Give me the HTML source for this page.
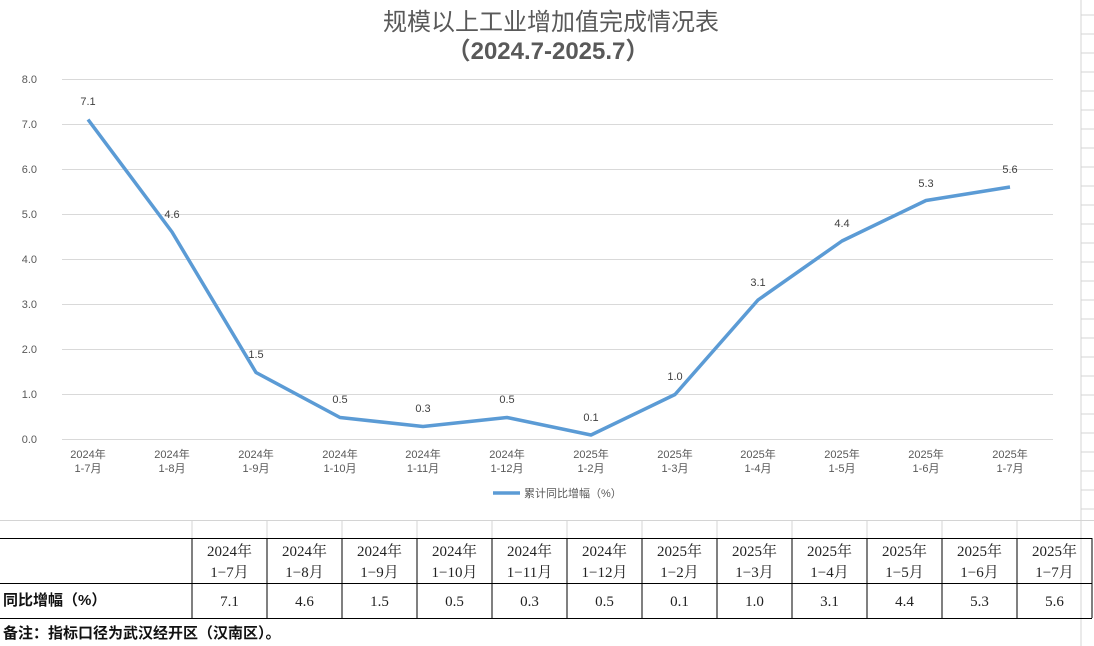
<!DOCTYPE html>
<html><head><meta charset="utf-8"><style>
body{margin:0;width:1094px;height:646px;background:#fff;overflow:hidden;position:relative;font-family:"Liberation Sans","Noto Sans CJK SC",sans-serif}
svg{position:absolute;left:0;top:0}
</style></head><body>
<svg width="1094" height="646" xmlns="http://www.w3.org/2000/svg" font-family="Liberation Sans, Noto Sans CJK SC, sans-serif">
<line x1="1081" y1="0" x2="1081" y2="646" stroke="#d4d4d4"/>
<g stroke="#d4d4d4">
<line x1="1081" y1="15" x2="1094" y2="15"/><line x1="1081" y1="34" x2="1094" y2="34"/><line x1="1081" y1="53" x2="1094" y2="53"/><line x1="1081" y1="72" x2="1094" y2="72"/><line x1="1081" y1="91" x2="1094" y2="91"/><line x1="1081" y1="110" x2="1094" y2="110"/><line x1="1081" y1="129" x2="1094" y2="129"/><line x1="1081" y1="148" x2="1094" y2="148"/><line x1="1081" y1="167" x2="1094" y2="167"/><line x1="1081" y1="186" x2="1094" y2="186"/><line x1="1081" y1="205" x2="1094" y2="205"/><line x1="1081" y1="224" x2="1094" y2="224"/><line x1="1081" y1="243" x2="1094" y2="243"/><line x1="1081" y1="262" x2="1094" y2="262"/><line x1="1081" y1="281" x2="1094" y2="281"/><line x1="1081" y1="300" x2="1094" y2="300"/><line x1="1081" y1="319" x2="1094" y2="319"/><line x1="1081" y1="338" x2="1094" y2="338"/><line x1="1081" y1="357" x2="1094" y2="357"/><line x1="1081" y1="376" x2="1094" y2="376"/><line x1="1081" y1="395" x2="1094" y2="395"/><line x1="1081" y1="414" x2="1094" y2="414"/><line x1="1081" y1="433" x2="1094" y2="433"/><line x1="1081" y1="452" x2="1094" y2="452"/><line x1="1081" y1="471" x2="1094" y2="471"/><line x1="1081" y1="490" x2="1094" y2="490"/><line x1="1081" y1="509" x2="1094" y2="509"/>
</g>
<text x="551" y="30" text-anchor="middle" font-size="24" fill="#595959">规模以上工业增加值完成情况表</text>
<text x="548" y="59" text-anchor="middle" font-size="24" font-weight="bold" fill="#595959">（2024.7-2025.7）</text>
<g stroke="#d9d9d9" stroke-width="1">
<line x1="62" y1="79.5" x2="1053" y2="79.5"/><line x1="62" y1="124.5" x2="1053" y2="124.5"/><line x1="62" y1="169.5" x2="1053" y2="169.5"/><line x1="62" y1="214.5" x2="1053" y2="214.5"/><line x1="62" y1="259.5" x2="1053" y2="259.5"/><line x1="62" y1="304.5" x2="1053" y2="304.5"/><line x1="62" y1="349.5" x2="1053" y2="349.5"/><line x1="62" y1="394.5" x2="1053" y2="394.5"/><line x1="62" y1="439.5" x2="1053" y2="439.5"/>
</g>
<g font-size="11" fill="#595959" text-anchor="end">
<text x="37" y="83">8.0</text><text x="37" y="128">7.0</text><text x="37" y="173">6.0</text><text x="37" y="218">5.0</text><text x="37" y="263">4.0</text><text x="37" y="308">3.0</text><text x="37" y="353">2.0</text><text x="37" y="398">1.0</text><text x="37" y="443">0.0</text>
</g>
<polyline fill="none" stroke="#5b9bd5" stroke-width="3.5" stroke-linejoin="round" points="88,119.5 172,232 256,372.5 340,417.5 423,426.5 507,417.5 591,435 675,394.5 758,300 842,241 926,200.5 1010,187"/>
<g font-size="11" fill="#404040" text-anchor="middle">
<text x="88" y="105">7.1</text><text x="172" y="218">4.6</text><text x="256" y="358">1.5</text><text x="340" y="403">0.5</text><text x="423" y="412">0.3</text><text x="507" y="403">0.5</text><text x="591" y="421">0.1</text><text x="675" y="380">1.0</text><text x="758" y="286">3.1</text><text x="842" y="227">4.4</text><text x="926" y="187">5.3</text><text x="1010" y="173">5.6</text>
</g>
<g font-size="11" fill="#595959" text-anchor="middle">
<text x="88" y="458">2024年</text><text x="88" y="472">1-7月</text>
<text x="172" y="458">2024年</text><text x="172" y="472">1-8月</text>
<text x="256" y="458">2024年</text><text x="256" y="472">1-9月</text>
<text x="340" y="458">2024年</text><text x="340" y="472">1-10月</text>
<text x="423" y="458">2024年</text><text x="423" y="472">1-11月</text>
<text x="507" y="458">2024年</text><text x="507" y="472">1-12月</text>
<text x="591" y="458">2025年</text><text x="591" y="472">1-2月</text>
<text x="675" y="458">2025年</text><text x="675" y="472">1-3月</text>
<text x="758" y="458">2025年</text><text x="758" y="472">1-4月</text>
<text x="842" y="458">2025年</text><text x="842" y="472">1-5月</text>
<text x="926" y="458">2025年</text><text x="926" y="472">1-6月</text>
<text x="1010" y="458">2025年</text><text x="1010" y="472">1-7月</text>
</g>
<line x1="493" y1="493" x2="520" y2="493" stroke="#5b9bd5" stroke-width="3.5"/>
<text x="524" y="497" font-size="11" fill="#595959">累计同比增幅（%）</text>
<g stroke="#d4d4d4"><line x1="0" y1="520.5" x2="1094" y2="520.5"/>
<line x1="192" y1="520" x2="192" y2="538"/><line x1="267" y1="520" x2="267" y2="538"/><line x1="342" y1="520" x2="342" y2="538"/><line x1="417" y1="520" x2="417" y2="538"/><line x1="492" y1="520" x2="492" y2="538"/><line x1="567" y1="520" x2="567" y2="538"/><line x1="642" y1="520" x2="642" y2="538"/><line x1="717" y1="520" x2="717" y2="538"/><line x1="792" y1="520" x2="792" y2="538"/><line x1="867" y1="520" x2="867" y2="538"/><line x1="942" y1="520" x2="942" y2="538"/><line x1="1017" y1="520" x2="1017" y2="538"/></g>
<g stroke="#000" stroke-width="1">
<line x1="0" y1="538.5" x2="1092" y2="538.5"/><line x1="0" y1="583.5" x2="1092" y2="583.5"/><line x1="0" y1="618.5" x2="1092" y2="618.5"/>
<line x1="192" y1="538" x2="192" y2="618"/><line x1="267" y1="538" x2="267" y2="618"/><line x1="342" y1="538" x2="342" y2="618"/><line x1="417" y1="538" x2="417" y2="618"/><line x1="492" y1="538" x2="492" y2="618"/><line x1="567" y1="538" x2="567" y2="618"/><line x1="642" y1="538" x2="642" y2="618"/><line x1="717" y1="538" x2="717" y2="618"/><line x1="792" y1="538" x2="792" y2="618"/><line x1="867" y1="538" x2="867" y2="618"/><line x1="942" y1="538" x2="942" y2="618"/><line x1="1017" y1="538" x2="1017" y2="618"/><line x1="1092" y1="538" x2="1092" y2="618"/>
</g>
<g font-family="Liberation Serif, Noto Serif CJK SC, serif" font-size="15" fill="#222" text-anchor="middle">
<text x="229.5" y="556">2024年</text><text x="229.5" y="577">1−7月</text>
<text x="304.5" y="556">2024年</text><text x="304.5" y="577">1−8月</text>
<text x="379.5" y="556">2024年</text><text x="379.5" y="577">1−9月</text>
<text x="454.5" y="556">2024年</text><text x="454.5" y="577">1−10月</text>
<text x="529.5" y="556">2024年</text><text x="529.5" y="577">1−11月</text>
<text x="604.5" y="556">2024年</text><text x="604.5" y="577">1−12月</text>
<text x="679.5" y="556">2025年</text><text x="679.5" y="577">1−2月</text>
<text x="754.5" y="556">2025年</text><text x="754.5" y="577">1−3月</text>
<text x="829.5" y="556">2025年</text><text x="829.5" y="577">1−4月</text>
<text x="904.5" y="556">2025年</text><text x="904.5" y="577">1−5月</text>
<text x="979.5" y="556">2025年</text><text x="979.5" y="577">1−6月</text>
<text x="1054.5" y="556">2025年</text><text x="1054.5" y="577">1−7月</text>
<text x="229.5" y="606">7.1</text><text x="304.5" y="606">4.6</text><text x="379.5" y="606">1.5</text><text x="454.5" y="606">0.5</text><text x="529.5" y="606">0.3</text><text x="604.5" y="606">0.5</text><text x="679.5" y="606">0.1</text><text x="754.5" y="606">1.0</text><text x="829.5" y="606">3.1</text><text x="904.5" y="606">4.4</text><text x="979.5" y="606">5.3</text><text x="1054.5" y="606">5.6</text>
</g>
<text x="3" y="605" font-size="15" font-weight="bold" fill="#111">同比增幅（%）</text>
<text x="3" y="638" font-size="15" font-weight="bold" fill="#111">备注：指标口径为武汉经开区（汉南区）。</text>
</svg>
</body></html>
